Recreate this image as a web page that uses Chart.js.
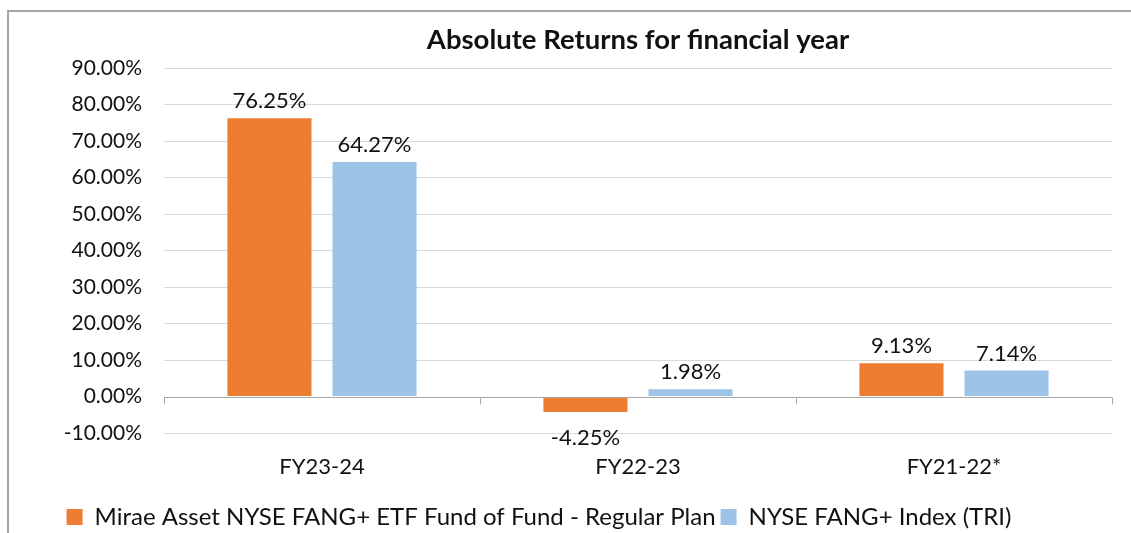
<!DOCTYPE html>
<html>
<head>
<meta charset="utf-8">
<script src="https://cdn.jsdelivr.net/npm/chart.js@4.4.0/dist/chart.umd.min.js"></script>
<style>
  html, body { margin: 0; padding: 0; background: #fff; overflow: hidden; }
  #wrap { position: relative; width: 1131px; height: 533px; }
  #frame { position: absolute; left: 7px; top: 10px; width: 2000px; height: 2000px;
           border-left: 2px solid #a6a6a6; border-top: 2px solid #a6a6a6; box-sizing: border-box; }
  canvas { position: absolute; left: 0; top: 0; }
</style>
</head>
<body>
<div id="wrap">
  <div id="frame"></div>
  <canvas id="c" width="1131" height="533"></canvas>
</div>
<script>
const categories = ['FY23-24', 'FY22-23', 'FY21-22*'];
const fundLabel = 'Mirae Asset NYSE FANG+ ETF Fund of Fund - Regular Plan';
const indexLabel = 'NYSE FANG+ Index (TRI)';
const fundReturns = [76.25, -4.25, 9.13];
const indexReturns = [64.27, 1.98, 7.14];
const yMin = -10, yMax = 90, yStep = 10;
const titleText = 'Absolute Returns for financial year';

const FONT = 'Lato, "Open Sans", sans-serif';
const TEXT = '#111111';

const dataLabels = {
  id: 'dataLabels',
  afterDatasetsDraw(chart) {
    const ctx = chart.ctx;
    ctx.save();
    ctx.font = '22px ' + FONT;
    ctx.fillStyle = TEXT;
    ctx.textAlign = 'center';
    ctx.textBaseline = 'middle';
    chart.data.datasets.forEach((ds, di) => {
      const meta = chart.getDatasetMeta(di);
      meta.data.forEach((el, i) => {
        const v = ds.data[i];
        const txt = v.toFixed(2) + '%';
        const y = v >= 0 ? el.y - 17 : el.y + 26;
        ctx.fillText(txt, el.x, y);
      });
    });
    ctx.restore();
  }
};

const zeroTicks = {
  id: 'zeroTicks',
  afterDatasetsDraw(chart) {
    const xs = chart.scales.x, ys = chart.scales.y;
    const y0 = Math.round(ys.getPixelForValue(0)) + 0.5;
    const n = categories.length;
    const ctx = chart.ctx;
    ctx.save();
    ctx.strokeStyle = '#a6a6a6';
    ctx.lineWidth = 1;
    ctx.beginPath();
    ctx.moveTo(xs.left, y0); ctx.lineTo(xs.right, y0);
    for (let i = 0; i <= n; i++) {
      const x = Math.round(xs.left + i * (xs.right - xs.left) / n) + 0.5;
      ctx.moveTo(x, y0); ctx.lineTo(x, y0 + 7);
    }
    ctx.stroke();
    ctx.restore();
  }
};

const shiftLegend = {
  id: 'shiftLegend',
  afterLayout(chart) {
    const lg = chart.legend;
    if (lg) { lg.left -= 44; }
  }
};

new Chart(document.getElementById('c'), {
  type: 'bar',
  data: {
    labels: categories,
    datasets: [
      { label: fundLabel, data: fundReturns, backgroundColor: '#ED7D31',
        barPercentage: 0.8, categoryPercentage: 0.665 },
      { label: indexLabel, data: indexReturns, backgroundColor: '#9DC3E6',
        barPercentage: 0.8, categoryPercentage: 0.665 }
    ]
  },
  plugins: [dataLabels, zeroTicks, shiftLegend],
  options: {
    responsive: false,
    animation: false,
    devicePixelRatio: 1,
    layout: { padding: { left: 10, right: 19, top: 0, bottom: -6 } },
    plugins: {
      title: {
        display: true, text: titleText, color: TEXT, fullSize: false,
        font: { family: FONT, size: 27.5, weight: 'bold', lineHeight: 1.2 },
        padding: { top: 23.5, bottom: 11.5 }
      },
      legend: {
        position: 'bottom',
        labels: {
          color: TEXT, boxWidth: 16, boxHeight: 16, padding: 5,
          font: { family: FONT, size: 24 }
        }
      },
      tooltip: { enabled: false }
    },
    scales: {
      x: {
        grid: { display: false, drawTicks: false },
        border: { display: false },
        ticks: { color: TEXT, font: { family: FONT, size: 22 }, padding: 20.5 },
        afterFit(s) { s.height = 67; }
      },
      y: {
        min: yMin, max: yMax,
        grid: {
          drawTicks: false,
          color: (c) => c.tick && c.tick.value === 0 ? 'rgba(0,0,0,0)' : '#d9d9d9',
          lineWidth: 1
        },
        border: { display: false },
        ticks: {
          stepSize: yStep, color: TEXT, padding: 22,
          font: { family: FONT, size: 21 },
          callback: (v) => Number(v).toFixed(2) + '%'
        },
        afterFit(s) { s.width = 154; }
      }
    }
  }
});
</script>
</body>
</html>
